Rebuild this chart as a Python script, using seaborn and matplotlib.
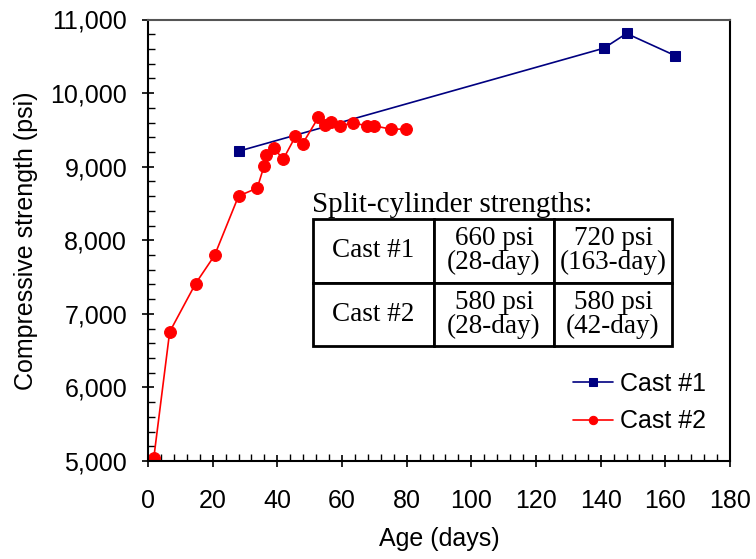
import matplotlib
matplotlib.use("Agg")
import matplotlib.pyplot as plt
import matplotlib.ticker as mticker
import seaborn as sns
import pandas as pd

# Data
cast1_age = [28, 141, 148, 163]
cast1_strength = [9210, 10610, 10810, 10510]
cast2_age = [1.8, 6.7, 14.7, 20.6, 28.0, 33.8, 35.9, 36.6, 38.9, 41.8, 45.6, 47.8,
             52.7, 54.7, 56.6, 59.5, 63.4, 67.8, 70.0, 75.1, 79.8]
cast2_strength = [5045, 6754, 7410, 7795, 8600, 8710, 9010, 9165, 9255, 9100, 9410, 9310,
                  9670, 9560, 9605, 9555, 9595, 9555, 9555, 9510, 9510]
series_names = ["Cast #1", "Cast #2"]
table_rows = [["Cast #1", "660 psi\n(28-day)", "720 psi\n(163-day)"],
              ["Cast #2", "580 psi\n(28-day)", "580 psi\n(42-day)"]]
table_title = "Split-cylinder strengths:"

sns.set_theme(style="white")
plt.rcParams['font.family'] = ['Liberation Sans', 'DejaVu Sans']
for k in ["text.color", "axes.labelcolor", "xtick.color", "ytick.color", "axes.edgecolor"]:
    plt.rcParams[k] = "black"

fig = plt.figure(figsize=(7.56, 5.59), dpi=100)
ax = fig.add_axes([148/756, 1-461/559, (730-148)/756, (461-19.5)/559])

df1 = pd.DataFrame({"age": cast1_age, "strength": cast1_strength})
df2 = pd.DataFrame({"age": cast2_age, "strength": cast2_strength})
sns.lineplot(data=df1, x="age", y="strength", ax=ax, color="#000080", marker="s",
             markersize=6.8, markeredgecolor="#000080", linewidth=1.2,
             sort=False, estimator=None, label=series_names[0])
sns.lineplot(data=df2, x="age", y="strength", ax=ax, color="#FF0000", marker="o",
             markersize=8.5, markeredgecolor="#FF0000", linewidth=1.2,
             sort=False, estimator=None, label=series_names[1])

ax.set_xlim(0, 180)
ax.set_ylim(5000, 11000)
ax.xaxis.set_major_locator(mticker.MultipleLocator(20))
ax.xaxis.set_minor_locator(mticker.MultipleLocator(4))
ax.yaxis.set_major_locator(mticker.MultipleLocator(1000))
ax.yaxis.set_minor_locator(mticker.MultipleLocator(200))
ax.yaxis.set_major_formatter(mticker.FuncFormatter(lambda v, p: f"{int(v):,}"))

ax.tick_params(axis="both", which="major", direction="inout", length=9, width=1.2,
               labelsize=18, color="black", bottom=True, left=True)
ax.tick_params(axis="y", which="major", pad=10.5)
ax.tick_params(axis="x", which="major", pad=15.5)
ax.tick_params(axis="x", which="minor", direction="in", length=5, width=1, bottom=True)
ax.tick_params(axis="y", which="minor", direction="in", length=5, width=1, left=True)
for s in ax.spines.values():
    s.set_visible(True)
    s.set_color("black")
    s.set_linewidth(1.5)
ax.spines["top"].set_color("#555555")

ax.set_xlabel("Age (days)", fontsize=18, labelpad=10)
ax.set_ylabel("Compressive strength (psi)", fontsize=18, labelpad=9)

def xa(px):
    return (px - 148) / (730 - 148)
def ya(py):
    return (461 - py) / (461 - 19.5)

leg = ax.legend(loc="center left", frameon=False, fontsize=18, handlelength=1.6,
                handletextpad=0.3, labelspacing=0.55, borderpad=0, borderaxespad=0,
                bbox_to_anchor=(xa(573), ya(402.5)))
for h in leg.legend_handles:
    h.set_markersize(6)

# Table
ax.text(xa(312), ya(212), table_title, transform=ax.transAxes, fontsize=21,
        family=["Liberation Serif", "DejaVu Serif"], ha="left", va="baseline")
tbl = ax.table(cellText=table_rows, cellLoc="center",
               bbox=[xa(313), ya(346), xa(672) - xa(313), ya(219) - ya(346)])
tbl.auto_set_font_size(False)
widths = [121, 120, 118]
tot = sum(widths)
for (r, c), cell in tbl.get_celld().items():
    cell.set_width(widths[c] / tot)
    cell.set_linewidth(2)
    cell.set_edgecolor("black")
    cell.get_text().set_fontsize(19.5)
    cell.get_text().set_color("black")
    cell.get_text().set_fontfamily(["Liberation Serif", "DejaVu Serif"])
    cell.get_text().set_linespacing(0.95)

fig.savefig("out.png", dpi=100)
